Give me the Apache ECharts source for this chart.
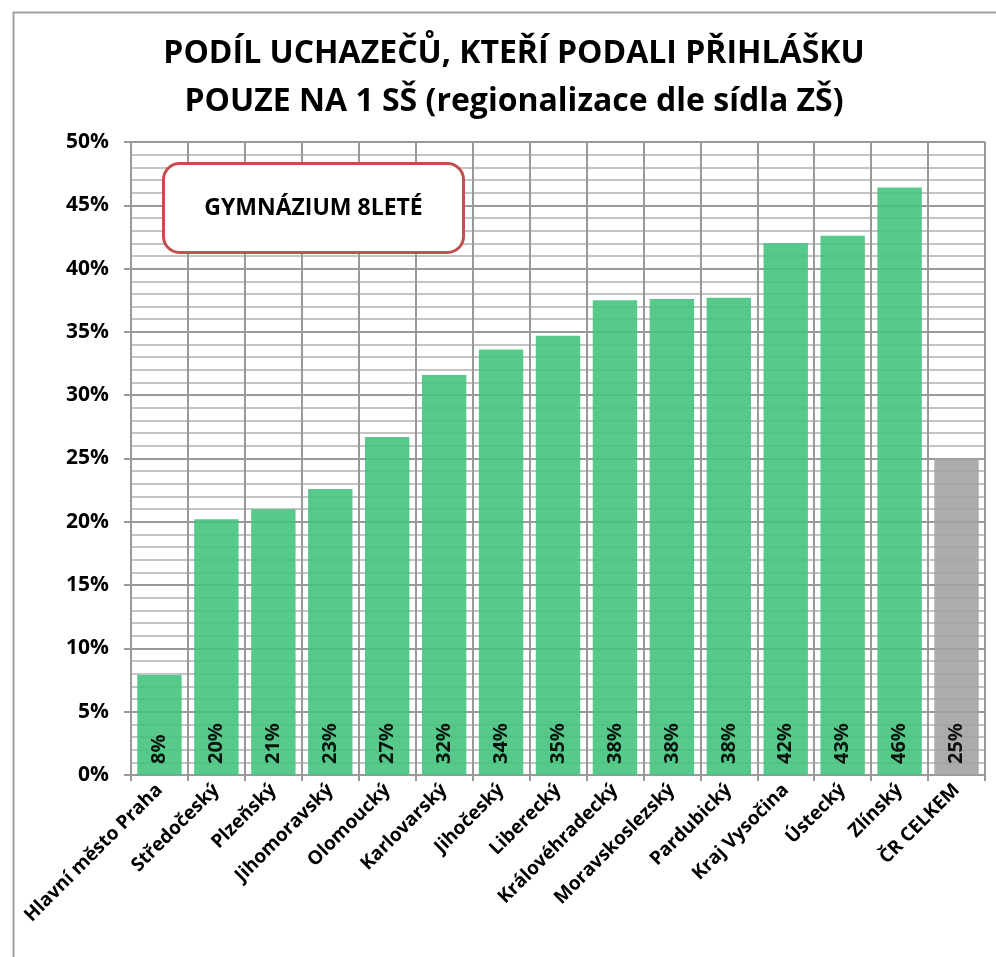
<!DOCTYPE html>
<html>
	<head>
		<meta charset="utf-8">
		<script src="https://cdn.jsdelivr.net/npm/echarts@6/dist/echarts.min.js"></script>
		<title>Podíl uchazečů</title>
	</head>
	<body>
		<style>
			html,
			body,
			#main {
				width: 100%;
				height: 100%;
				margin: 0;
			}
		</style>
		<div id="main"></div>
		<script type="text/javascript">
			// kraje
			var kraje = ['Hlavní město Praha', 'Středočeský', 'Plzeňský', 'Jihomoravský', 'Olomoucký',
				'Karlovarský', 'Jihočeský', 'Liberecký', 'Královéhradecký', 'Moravskoslezský',
				'Pardubický', 'Kraj Vysočina', 'Ústecký', 'Zlínský', 'ČR CELKEM'];
			// podíl uchazečů (%)
			var podil = [7.9, 20.2, 21.0, 22.6, 26.7, 31.6, 33.6, 34.7, 37.5, 37.6, 37.7, 42.0, 42.6, 46.4, 25.0];
			var yTicks = [0, 5, 10, 15, 20, 25, 30, 35, 40, 45, 50];

			var font = '"Open Sans", sans-serif';
			var myChart = echarts.init(document.getElementById('main'));

			var data = [];
			for (var i = 0; i < podil.length; i++) {
				var celkem = kraje[i] === 'ČR CELKEM';
				data.push({
					value: podil[i],
					itemStyle: {
						color: celkem ? '#a3a3a3' : '#45c47e',
						opacity: 0.9
					}
				});
			}

			var option = {
				backgroundColor: '#fff',
				title: {
					text: 'PODÍL UCHAZEČŮ, KTEŘÍ PODALI PŘIHLÁŠKU\nPOUZE NA 1 SŠ (regionalizace dle sídla ZŠ)',
					left: 509,
					textAlign: 'center',
					top: 25,
					textStyle: {
						fontFamily: font,
						fontSize: 32,
						fontWeight: 'bold',
						color: '#000',
						lineHeight: 48
					}
				},
				grid: {
					left: 131,
					right: 11,
					top: 142,
					bottom: 182,
					containLabel: false
				},
				xAxis: {
					type: 'category',
					data: kraje,
					axisLine: { lineStyle: { color: '#999', width: 2 } },
					axisTick: { show: true, length: 6, lineStyle: { color: '#999', width: 2 } },
					splitLine: { show: true, lineStyle: { color: '#999', width: 2 } },
					axisLabel: {
						rotate: 45,
						interval: 0,
						margin: 12,
						fontFamily: font,
						fontSize: 19,
						fontWeight: 'bold',
						color: '#000'
					}
				},
				yAxis: {
					type: 'value',
					min: yTicks[0],
					max: yTicks[yTicks.length - 1],
					interval: 5,
					axisLine: { show: true, lineStyle: { color: '#999', width: 2 } },
					axisTick: { show: true, length: 7, lineStyle: { color: '#999', width: 2 } },
					splitLine: { show: true, lineStyle: { color: '#999', width: 2 } },
					minorTick: { show: false, splitNumber: 5 },
					minorSplitLine: { show: true, lineStyle: { color: '#c4c4c4', width: 2 } },
					axisLabel: {
						formatter: '{value}%',
						margin: 22,
						fontFamily: font,
						fontSize: 21,
						fontWeight: 'bold',
						color: '#000'
					}
				},
				series: [{
					type: 'bar',
					data: data,
					barCategoryGap: '22%',
					label: {
						show: true,
						position: 'insideBottom',
						rotate: 90,
						align: 'left',
						verticalAlign: 'middle',
						distance: 11,
						formatter: function(p) {
							return Math.round(p.value) + '%';
						},
						fontFamily: font,
						fontSize: 20,
						fontWeight: 'bold',
						color: '#000'
					}
				}],
				graphic: [{
					type: 'rect',
					left: 11,
					top: 10,
					z: 100,
					shape: { width: 1000, height: 1000 },
					style: { fill: 'none', stroke: '#a0a0a0', lineWidth: 2 },
					silent: true
				}, {
					type: 'group',
					left: 162,
					top: 162,
					z: 100,
					children: [{
						type: 'rect',
						z: 100,
						shape: { x: 0, y: 0, width: 300, height: 89, r: 16 },
						style: { fill: '#fff', stroke: '#c0504d', lineWidth: 3 }
					}, {
						type: 'text',
						z: 101,
						x: 150,
						y: 45,
						style: {
							text: 'GYMNÁZIUM 8LETÉ',
							fontFamily: font,
							fontSize: 23,
							fontWeight: 'bold',
							fill: '#000',
							align: 'center',
							verticalAlign: 'middle'
						}
					}]
				}]
			};

			myChart.setOption(option);

			window.onresize = function() {
				myChart.resize();
			}
		</script>
	</body>
</html>
